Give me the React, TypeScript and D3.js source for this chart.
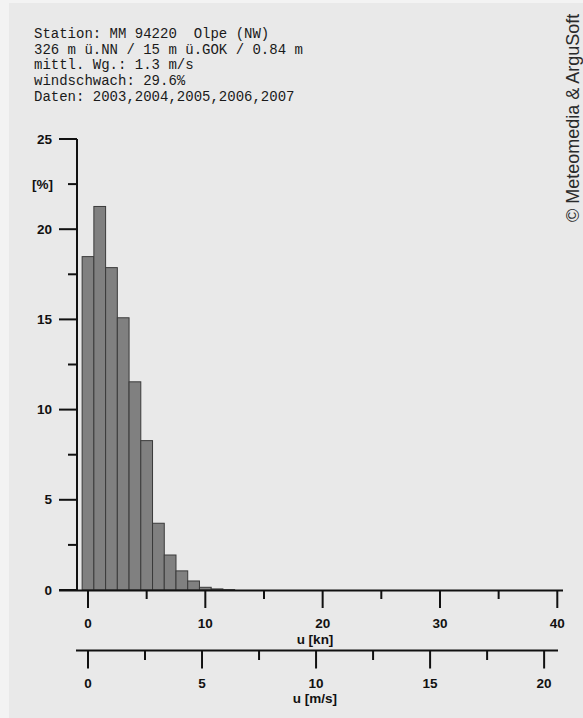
import React from 'react';
import * as d3 from 'd3';

const W = 583;
const H = 718;

// station info printed top left
const headerLines = [
  'Station: MM 94220  Olpe (NW)',
  '326 m ü.NN / 15 m ü.GOK / 0.84 m',
  'mittl. Wg.: 1.3 m/s',
  'windschwach: 29.6%',
  'Daten: 2003,2004,2005,2006,2007',
];

// frequency per 1 kn class (class k covers k-0.5 .. k+0.5 kn)
const binCenters = [0, 1, 2, 3, 4, 5, 6, 7, 8, 9, 10, 11, 12];
const binShares = [18.48, 21.26, 17.87, 15.09, 11.54, 8.28, 3.7, 1.94, 1.06, 0.5, 0.15, 0.06, 0.02];

const yMajorTicks = [0, 5, 10, 15, 20, 25];
const yMinorTicks = [2.5, 7.5, 12.5, 17.5, 22.5];
const knMajorTicks = [0, 10, 20, 30, 40];
const knMinorTicks = [5, 15, 25, 35];
const msMajorTicks = [0, 5, 10, 15, 20];
const msMinorTicks = [2.5, 7.5, 12.5, 17.5];

const KN_PER_MS = 1.94384;

const labelFont = '"Liberation Sans", Arial, sans-serif';

export default function App() {
  const y = d3.scaleLinear().domain([0, 25]).range([590, 139]);
  const kn = d3.scaleLinear().domain([0, 40]).range([88, 557.3]);
  const ms = d3.scaleLinear().domain([0, 20]).range([kn(0), kn(20 * KN_PER_MS)]);

  const axisY = 77;   // x of vertical axis
  const knLineY = 590.5;
  const msLineY = 650.5;

  return (
    <div style={{ position: 'fixed', left: 0, top: 0 }}>
      <svg width={W} height={H} style={{ display: 'block' }}>
        <rect x={0} y={0} width={W} height={H} fill="#f3f3f3" />
        <rect x={9} y={3} width={W - 9} height={H - 3} fill="#e9e9e9" />

        {/* header */}
        <g fontFamily='"Courier New", "Liberation Mono", monospace' fontSize={14} fill="#1a1a1a">
          {headerLines.map((t, i) => (
            <text key={i} x={34} y={38 + i * 15.65} style={{ whiteSpace: 'pre' }}>{t}</text>
          ))}
        </g>

        {/* copyright, runs up the right edge */}
        <text
          transform="translate(578.5,222) rotate(-90)"
          fontFamily={labelFont}
          fontSize={18}
          fill="#2a2a2a"
        >© Meteomedia &amp; ArguSoft</text>

        {/* bars */}
        <g>
          {binCenters.map((c, i) => (
            <rect
              key={c}
              x={kn(c - 0.5)}
              y={y(binShares[i])}
              width={kn(c + 0.5) - kn(c - 0.5)}
              height={y(0) - y(binShares[i])}
              fill="#808080"
              stroke="#3a3a3a"
              strokeWidth={1}
            />
          ))}
        </g>

        {/* y axis */}
        <g stroke="#111" strokeWidth={2}>
          <line x1={axisY} x2={axisY} y1={y(25)} y2={y(0)} />
          {yMajorTicks.map(t => (
            <line key={t} x1={59} x2={axisY} y1={y(t)} y2={y(t)} />
          ))}
          {yMinorTicks.map(t => (
            <line key={t} x1={68} x2={axisY} y1={y(t)} y2={y(t)} />
          ))}
        </g>
        <g fontFamily={labelFont} fontWeight="bold" fontSize={13.5} fill="#111" textAnchor="end">
          {yMajorTicks.map(t => (
            <text key={t} x={52} y={y(t) + 4.5}>{t}</text>
          ))}
          <text x={53} y={y(22.5) + 4.5}>[%]</text>
        </g>

        {/* kn axis */}
        <g stroke="#111" strokeWidth={2}>
          <line x1={59} x2={563} y1={knLineY} y2={knLineY} />
          {knMajorTicks.map(t => (
            <line key={t} x1={kn(t)} x2={kn(t)} y1={knLineY} y2={608} />
          ))}
          {knMinorTicks.map(t => (
            <line key={t} x1={kn(t)} x2={kn(t)} y1={knLineY} y2={599} />
          ))}
        </g>
        <g fontFamily={labelFont} fontWeight="bold" fontSize={13.5} fill="#111" textAnchor="middle">
          {knMajorTicks.map(t => (
            <text key={t} x={kn(t)} y={628}>{t}</text>
          ))}
          <text x={315} y={644}>u [kn]</text>
        </g>

        {/* m/s axis */}
        <g stroke="#111" strokeWidth={2}>
          <line x1={76} x2={558} y1={msLineY} y2={msLineY} />
          {msMajorTicks.map(t => (
            <line key={t} x1={ms(t)} x2={ms(t)} y1={msLineY} y2={668.5} />
          ))}
          {msMinorTicks.map(t => (
            <line key={t} x1={ms(t)} x2={ms(t)} y1={msLineY} y2={660} />
          ))}
        </g>
        <g fontFamily={labelFont} fontWeight="bold" fontSize={13.5} fill="#111" textAnchor="middle">
          {msMajorTicks.map(t => (
            <text key={t} x={ms(t)} y={687.5}>{t}</text>
          ))}
          <text x={315} y={703}>u [m/s]</text>
        </g>
      </svg>
    </div>
  );
}
